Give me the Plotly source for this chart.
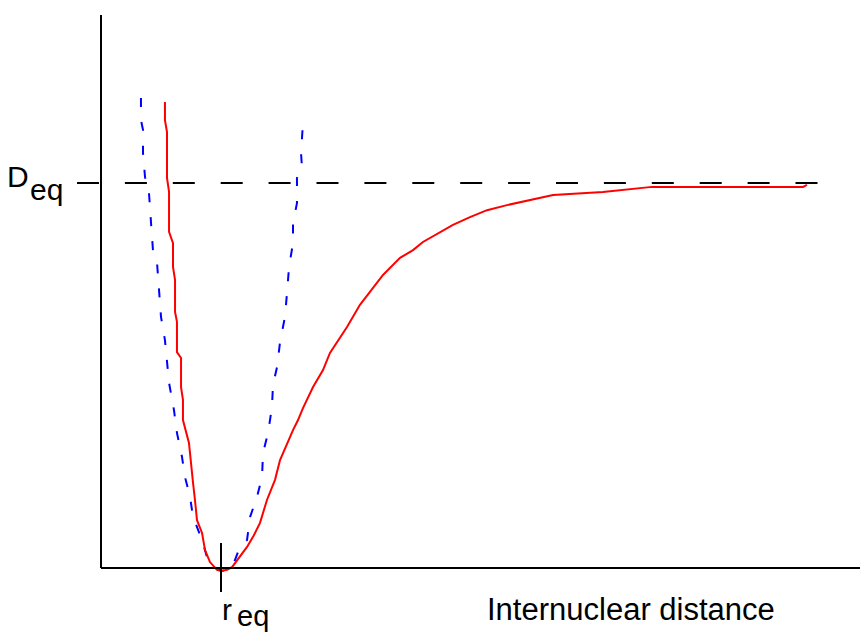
import plotly.graph_objects as go

# ---- data (r in units of r_eq, energy in units of D_eq) ----
R_EQ = 1.0
D_EQ = 1.0

morse_r = [0.533, 0.533, 0.550, 0.550, 0.567, 0.567, 0.600, 0.600, 0.617, 0.617,
           0.633, 0.633, 0.667, 0.667, 0.683, 0.683, 0.733, 0.750, 0.767, 0.783,
           0.800, 0.842, 0.867, 0.908, 0.967, 1.000, 1.050, 1.092, 1.158, 1.217,
           1.267, 1.325, 1.383, 1.450, 1.492, 1.550, 1.600, 1.642, 1.683, 1.767,
           1.850, 1.908, 1.975, 2.050, 2.158, 2.242, 2.350, 2.492, 2.600, 2.683,
           2.800, 2.933, 3.075, 3.217, 3.383, 3.550, 3.767, 4.183, 4.592, 5.850,
           5.883]
morse_E = [1.209, 1.162, 1.131, 1.013, 0.977, 0.874, 0.845, 0.784, 0.750, 0.668,
           0.642, 0.564, 0.549, 0.474, 0.441, 0.389, 0.330, 0.286, 0.227, 0.183,
           0.131, 0.098, 0.054, 0.023, 0.003, 0.000, 0.003, 0.010, 0.036, 0.062,
           0.088, 0.124, 0.183, 0.235, 0.286, 0.330, 0.363, 0.389, 0.420, 0.474,
           0.518, 0.562, 0.595, 0.629, 0.686, 0.719, 0.763, 0.807, 0.827, 0.848,
           0.869, 0.892, 0.912, 0.930, 0.943, 0.954, 0.969, 0.977, 0.990, 0.990,
           0.995]

harm_r = [0.333, 0.333, 0.350, 0.350, 0.367, 0.400, 0.417, 0.433, 0.467, 0.483,
          0.500, 0.533, 0.550, 0.567, 0.608, 0.633, 0.675, 0.700, 0.742, 0.767,
          0.842, 0.883, 0.933, 1.000, 1.050, 1.100, 1.158, 1.217, 1.242, 1.300,
          1.342, 1.350, 1.392, 1.425, 1.433, 1.467, 1.492, 1.533, 1.550, 1.567,
          1.600, 1.600, 1.633, 1.633, 1.675, 1.667, 1.683]
harm_E = [1.219, 1.162, 1.137, 1.077, 1.015, 0.974, 0.897, 0.827, 0.794, 0.716,
          0.655, 0.595, 0.544, 0.485, 0.415, 0.356, 0.294, 0.242, 0.191, 0.139,
          0.080, 0.036, 0.015, 0.000, 0.003, 0.015, 0.062, 0.080, 0.139, 0.191,
          0.242, 0.304, 0.356, 0.423, 0.479, 0.526, 0.590, 0.655, 0.716, 0.784,
          0.845, 0.897, 0.948, 1.013, 1.039, 1.077, 1.155]

X_LABEL = "Internuclear distance"

# ---- pixel <-> data helpers for layout placement ----
W, H = 860, 635
PX_PER_R = 120.0
PX_PER_E = 388.0
X0_PX = 101   # r = 0
Y0_PX = 571   # E = 0


def rx(px):
    return (px - X0_PX) / PX_PER_R


def ey(py):
    return (Y0_PX - py) / PX_PER_E


fig = go.Figure()

fig.add_trace(go.Scatter(x=harm_r, y=harm_E, mode="lines",
                         line=dict(color="#0000ff", width=2, dash="9px,15px"),
                         hoverinfo="skip", showlegend=False))
fig.add_trace(go.Scatter(x=morse_r, y=morse_E, mode="lines",
                         line=dict(color="#ff0000", width=2),
                         hoverinfo="skip", showlegend=False))

axis_E = ey(568)
shapes = [
    # y axis
    dict(type="line", x0=0, x1=0, y0=axis_E, y1=ey(15),
         line=dict(color="black", width=2)),
    # x axis
    dict(type="line", x0=0, x1=rx(862), y0=axis_E, y1=axis_E,
         line=dict(color="black", width=2)),
    # D_eq dashed line
    dict(type="line", x0=rx(77), x1=rx(818), y0=D_EQ, y1=D_EQ,
         line=dict(color="black", width=2, dash="22px,25.9px")),
    # r_eq tick
    dict(type="line", x0=R_EQ, x1=R_EQ, y0=ey(543), y1=ey(592),
         line=dict(color="black", width=2)),
]

FONT = "Liberation Sans, Arial, sans-serif"
annotations = [
    dict(x=rx(5), y=ey(176), text="D", xanchor="left", yanchor="middle",
         showarrow=False, font=dict(family=FONT, size=30, color="black")),
    dict(x=rx(28), y=ey(189), text="eq", xanchor="left", yanchor="middle",
         showarrow=False, font=dict(family=FONT, size=30, color="black")),
    dict(x=rx(220), y=ey(609), text="r", xanchor="left", yanchor="middle",
         showarrow=False, font=dict(family=FONT, size=30, color="black")),
    dict(x=rx(235), y=ey(616), text="eq", xanchor="left", yanchor="middle",
         showarrow=False, font=dict(family=FONT, size=29, color="black")),
    dict(x=rx(485), y=ey(609), text=X_LABEL, xanchor="left", yanchor="middle",
         showarrow=False, font=dict(family=FONT, size=31, color="black")),
]

fig.update_layout(
    width=W, height=H,
    margin=dict(l=0, r=0, t=0, b=0),
    paper_bgcolor="white", plot_bgcolor="white",
    xaxis=dict(range=[rx(0), rx(W)], visible=False, fixedrange=True),
    yaxis=dict(range=[ey(H), ey(0)], visible=False, fixedrange=True),
    shapes=shapes,
    annotations=annotations,
    showlegend=False,
)

fig.write_html("out.html", config={"displayModeBar": False},
               post_script="document.body.style.margin='0px';"
                           "document.body.style.padding='0px';"
                           "document.body.style.overflow='hidden';")
